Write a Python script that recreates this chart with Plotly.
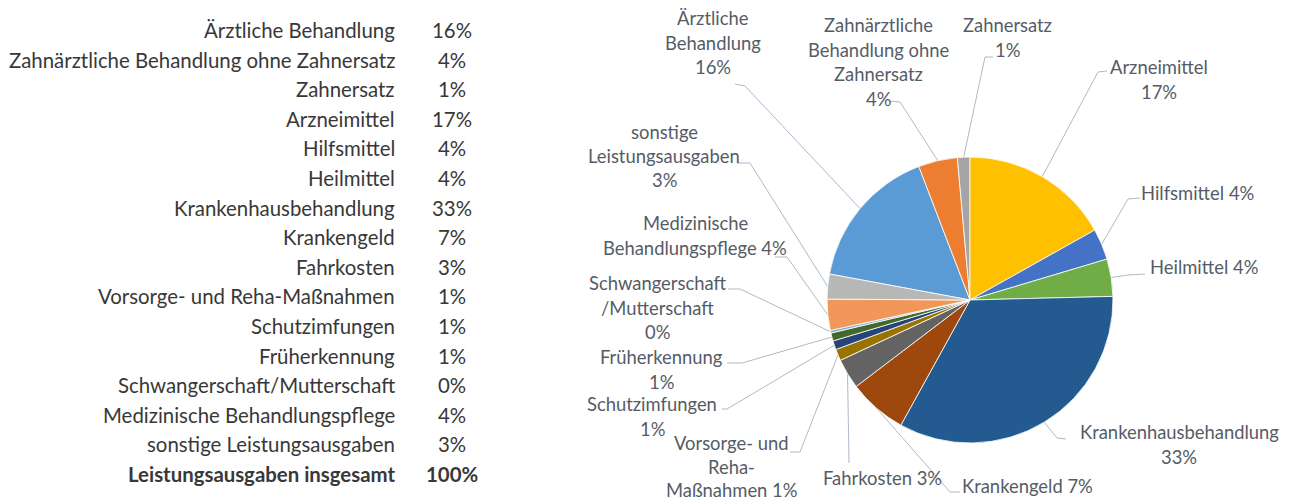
import math
import plotly.graph_objects as go

# ---------------- data ----------------
categories = [
    "Ärztliche Behandlung",
    "Zahnärztliche Behandlung ohne Zahnersatz",
    "Zahnersatz",
    "Arzneimittel",
    "Hilfsmittel",
    "Heilmittel",
    "Krankenhausbehandlung",
    "Krankengeld",
    "Fahrkosten",
    "Vorsorge- und Reha-Maßnahmen",
    "Schutzimfungen",
    "Früherkennung",
    "Schwangerschaft/Mutterschaft",
    "Medizinische Behandlungspflege",
    "sonstige Leistungsausgaben",
]
# estimated shares (percent)
values = [16.2, 4.4, 1.4, 16.8, 3.5, 4.2, 33.3, 6.6, 3.4, 1.3, 1.0, 0.9, 0.3, 3.5, 2.8]
pct_labels = ["16%", "4%", "1%", "17%", "4%", "4%", "33%", "7%", "3%", "1%", "1%", "1%", "0%", "4%", "3%"]
total_label = "Leistungsausgaben insgesamt"
total_pct = "100%"

# wrapped data-label text of the pie ({p} = percentage)
pie_label_lines = [
    ["Ärztliche", "Behandlung", "{p}"],
    ["Zahnärztliche", "Behandlung ohne", "Zahnersatz", "{p}"],
    ["Zahnersatz", "{p}"],
    ["Arzneimittel", "{p}"],
    ["Hilfsmittel {p}"],
    ["Heilmittel {p}"],
    ["Krankenhausbehandlung", "{p}"],
    ["Krankengeld {p}"],
    ["Fahrkosten {p}"],
    ["Vorsorge- und", "Reha-", "Maßnahmen {p}"],
    ["Schutzimfungen", "{p}"],
    ["Früherkennung", "{p}"],
    ["Schwangerschaft", "/Mutterschaft", "{p}"],
    ["Medizinische", "Behandlungspflege {p}"],
    ["sonstige", "Leistungsausgaben", "{p}"],
]

colors = ["#5B9BD5", "#ED7D31", "#A5A5A5", "#FFC000", "#4472C4", "#70AD47",
          "#235A90", "#9E480E", "#636363", "#997300", "#264478", "#43682B",
          "#7CAFDD", "#F1975A", "#B7B7B7"]

# ---------------- layout (pixels) ----------------
W, H = 1292, 502
PIE_CX, PIE_CY, PIE_R = 970, 300, 143
FONT = "Lato"
TABLE_SIZE = 20.4
LABEL_SIZE = 18.4
TABLE_COLOR = "#383838"
LABEL_COLOR = "#555C66"
LEADER_COLOR = "#AEB9C9"

# label placement: (center x, y of first line, line spacing), leader start (x, y), elbow (x, y)
label_place = [
    ((713, 18, 24.7), (735, 84), (745, 86)),
    ((878, 25, 24.5), (890, 101), (900, 102)),
    ((1007, 25, 24.7), (993, 57), (985, 57)),
    ((1159, 67, 24.7), (1107, 71), (1098, 72)),
    ((1197, 193, 24.7), (1140, 198), (1128, 199)),
    ((1204, 267, 24.7), (1145, 274), (1128, 275)),
    ((1179, 432, 24.7), (1066, 439), (1057, 438)),
    ((1027, 486, 24.7), (960, 492), (950, 492)),
    ((882, 478, 24.7), (849, 463), (849, 462)),
    ((731, 443, 23.5), (790, 452), (800, 452)),
    ((652, 404, 24.7), (722, 409), (727, 409)),
    ((661, 357, 24.7), (727, 363), (742, 363)),
    ((657, 283, 24.7), (728, 289), (740, 289)),
    ((695, 223, 24.7), (775, 257), (787, 257)),
    ((664, 132, 24.0), (737, 163), (750, 163)),
]


def px(x):
    return x / W


def py(y):
    return 1 - y / H


total = sum(values)
rotation = -360.0 * sum(values[:3]) / total  # Arzneimittel starts at 12 o'clock

fig = go.Figure()
fig.add_trace(go.Pie(
    labels=categories,
    values=values,
    sort=False,
    direction="clockwise",
    rotation=rotation,
    textinfo="none",
    hoverinfo="label+percent",
    marker=dict(colors=colors, line=dict(color="white", width=0.8)),
    domain=dict(x=[px(PIE_CX - PIE_R), px(PIE_CX + PIE_R)],
                y=[py(PIE_CY + PIE_R), py(PIE_CY - PIE_R)]),
    showlegend=False,
))

annotations = []
shapes = []

# left table
row_y0, row_dy = 30, 29.6
for i, (name, p) in enumerate(zip(categories + [total_label], pct_labels + [total_pct])):
    y = row_y0 + i * row_dy
    bold = i == len(categories)
    t_name = f"<b>{name}</b>" if bold else name
    t_p = f"<b>{p}</b>" if bold else p
    annotations.append(dict(x=px(397), y=py(y), xref="paper", yref="paper", text=t_name,
                            showarrow=False, xanchor="right", yanchor="middle",
                            font=dict(family=FONT, size=TABLE_SIZE, color=TABLE_COLOR)))
    annotations.append(dict(x=px(452), y=py(y), xref="paper", yref="paper", text=t_p,
                            showarrow=False, xanchor="center", yanchor="middle",
                            font=dict(family=FONT, size=TABLE_SIZE, color=TABLE_COLOR)))

# pie data labels and leader lines
cum = 0.0
for i, v in enumerate(values):
    mid = math.radians(rotation + (cum + v / 2) / total * 360)
    cum += v
    rx = PIE_CX + PIE_R * math.sin(mid)
    ry = PIE_CY - PIE_R * math.cos(mid)
    (cx, y0, lh), (sx, sy), (ex, ey) = label_place[i]
    for j, line in enumerate(pie_label_lines[i]):
        annotations.append(dict(x=px(cx), y=py(y0 + j * lh), xref="paper", yref="paper",
                                text=line.format(p=pct_labels[i]), showarrow=False,
                                xanchor="center", yanchor="middle", borderpad=0,
                                font=dict(family=FONT, size=LABEL_SIZE, color=LABEL_COLOR)))
    path = f"M {px(sx)} {py(sy)} L {px(ex)} {py(ey)} L {px(rx)} {py(ry)}"
    shapes.append(dict(type="path", xref="paper", yref="paper", path=path,
                       line=dict(color=LEADER_COLOR, width=1), layer="below"))

fig.update_layout(
    width=W, height=H,
    margin=dict(l=0, r=0, t=0, b=0),
    paper_bgcolor="white", plot_bgcolor="white",
    annotations=annotations,
    shapes=shapes,
    showlegend=False,
)

fig.write_html("out.html")
